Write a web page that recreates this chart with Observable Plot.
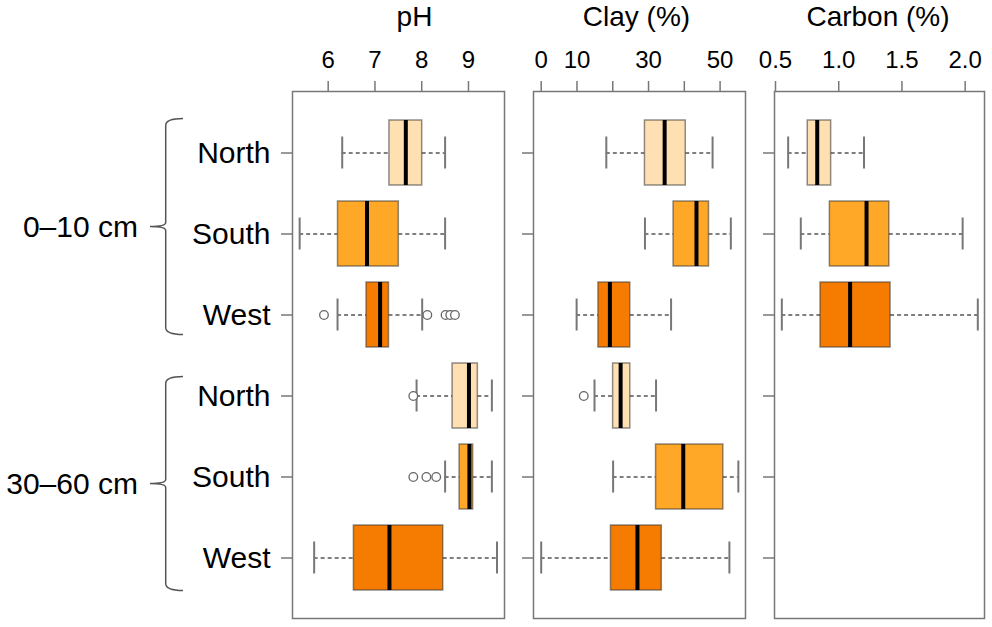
<!DOCTYPE html>
<html>
<head>
<meta charset="utf-8">
<script src="https://cdn.jsdelivr.net/npm/d3@7"></script>
<script src="https://cdn.jsdelivr.net/npm/@observablehq/plot@0.6"></script>
<style>
  body { margin: 0; background: #fff; }
  #chart { position: relative; width: 992px; height: 627px; overflow: hidden; background: #fff; }
  #chart svg { position: absolute; top: 0; }
</style>
</head>
<body>
<div id="chart"></div>
<script>
const FONT = '"Liberation Sans", Arial, Helvetica, sans-serif';

// ---- categories ----
const regions = ["North", "South", "West"];
const regionColors = ["#FFE0B2", "#FFA726", "#F57C00"];
const depths = ["0–10 cm", "30–60 cm"];
const rowRegion = ["North", "South", "West", "North", "South", "West"];
const rowDepth = ["0–10 cm", "0–10 cm", "0–10 cm", "30–60 cm", "30–60 cm", "30–60 cm"];

// ---- pH ----
const phLow  = [6.30, 5.39, 6.20, 7.89, 8.50, 5.70];
const phQ1   = [7.31, 6.21, 6.82, 8.66, 8.81, 6.55];
const phMed  = [7.66, 6.83, 7.11, 9.01, 9.02, 7.31];
const phQ3   = [8.01, 7.51, 7.30, 9.20, 9.10, 8.46];
const phHigh = [8.50, 8.50, 8.01, 9.50, 9.50, 9.61];
const phOutRow = [2, 2, 2, 2, 2, 3, 4, 4, 4];
const phOutVal = [5.91, 8.12, 8.51, 8.61, 8.71, 7.82, 7.82, 8.10, 8.31];
const phTicks = [6, 7, 8, 9];
const phTickLabels = ["6", "7", "8", "9"];

// ---- Clay (%) ----
const clayLow  = [18.2, 29.0, 9.9, 14.9, 20.1, 0.0];
const clayQ1   = [29.0, 37.0, 16.0, 20.1, 32.1, 19.5];
const clayMed  = [34.5, 43.4, 19.2, 22.2, 39.7, 26.9];
const clayQ3   = [40.4, 46.9, 24.9, 24.9, 50.9, 33.7];
const clayHigh = [47.9, 53.0, 36.3, 32.1, 55.1, 52.6];
const clayOutRow = [3];
const clayOutVal = [11.9];
const clayTicks = [0, 10, 20, 30, 40, 50];
const clayTickLabels = ["0", "10", "", "30", "", "50"];

// ---- Carbon (%) (0–10 cm only) ----
const carbLow  = [0.60, 0.70, 0.55];
const carbQ1   = [0.755, 0.93, 0.856];
const carbMed  = [0.83, 1.22, 1.09];
const carbQ3   = [0.94, 1.40, 1.41];
const carbHigh = [1.20, 1.98, 2.10];
const carbOutRow = [];
const carbOutVal = [];
const carbTicks = [0.5, 1.0, 1.5, 2.0];
const carbTickLabels = ["0.5", "1.0", "1.5", "2.0"];

const rowKeys = d3.range(rowRegion.length);

function panel({title, domain, ticks, tickLabels, low, q1, med, q3, high, outRow, outVal,
                left, width, marginLeft, marginRight, titleDx, showLabels}) {
  const rows = low.map((_, i) => ({key: i, region: rowRegion[i], depth: rowDepth[i],
    low: low[i], q1: q1[i], med: med[i], q3: q3[i], high: high[i]}));
  const outs = outRow.map((r, i) => ({row: r, value: outVal[i]}));
  const dash = {stroke: "#555", strokeWidth: 1.5, strokeDasharray: "4,3"};
  const cap = {stroke: "#777", strokeWidth: 2, insetTop: 16.5, insetBottom: 16.5};
  const svg = Plot.plot({
    width, height: 627,
    marginLeft, marginRight, marginTop: 91, marginBottom: 9,
    style: {fontFamily: FONT, fontSize: "24px", background: "transparent", overflow: "visible", color: "black"},
    x: {domain},
    y: {type: "band", domain: rowKeys, paddingInner: 0.2, paddingOuter: 0.325},
    color: {domain: regions, range: regionColors},
    marks: [
      Plot.axisX({anchor: "top", ticks, tickFormat: d => tickLabels[ticks.indexOf(d)],
        tickSize: 11, tickPadding: 13, stroke: "#777", strokeWidth: 1.5, fontSize: 24, label: null}),
      Plot.axisY({anchor: "left", tickSize: 11, tickPadding: 11, stroke: "#777", strokeWidth: 1.5,
        fontSize: 30, tickFormat: showLabels ? (k => rowRegion[k]) : (() => ""), label: null}),
      Plot.ruleY(rows, {y: "key", x1: "low", x2: "q1", ...dash}),
      Plot.ruleY(rows, {y: "key", x1: "q3", x2: "high", ...dash}),
      Plot.tickX(rows, {y: "key", x: "low", ...cap}),
      Plot.tickX(rows, {y: "key", x: "high", ...cap}),
      Plot.barX(rows, {y: "key", x1: "q1", x2: "q3", fill: "region", stroke: "#333", strokeOpacity: 0.55, strokeWidth: 1.5}),
      Plot.tickX(rows, {y: "key", x: "med", stroke: "black", strokeWidth: 4}),
      Plot.dot(outs, {y: "row", x: "value", r: 4.3, stroke: "#666", strokeWidth: 1.3, fill: "white"}),
      Plot.frame({stroke: "#777", strokeWidth: 1.5}),
      Plot.text([title], {frameAnchor: "top", lineAnchor: "middle", dy: -74, dx: titleDx,
        fontSize: 28, fill: "black", text: d => d})
    ]
  });
  svg.style.left = left + "px";
  document.getElementById("chart").appendChild(svg);
  return svg;
}

const p1 = panel({title: "pH", domain: [5.237, 9.770], ticks: phTicks, tickLabels: phTickLabels,
  low: phLow, q1: phQ1, med: phMed, q3: phQ3, high: phHigh, outRow: phOutRow, outVal: phOutVal,
  left: 0, width: 510, marginLeft: 292, marginRight: 6, titleDx: 16, showLabels: true});

panel({title: "Clay (%)", domain: [-2.15, 57.1], ticks: clayTicks, tickLabels: clayTickLabels,
  low: clayLow, q1: clayQ1, med: clayMed, q3: clayQ3, high: clayHigh, outRow: clayOutRow, outVal: clayOutVal,
  left: 510, width: 245, marginLeft: 23, marginRight: 10, titleDx: -3, showLabels: false});

panel({title: "Carbon (%)", domain: [0.492, 2.153], ticks: carbTicks, tickLabels: carbTickLabels,
  low: carbLow, q1: carbQ1, med: carbMed, q3: carbQ3, high: carbHigh, outRow: carbOutRow, outVal: carbOutVal,
  left: 755, width: 237, marginLeft: 19, marginRight: 8, titleDx: -1.5, showLabels: false});

// ---- depth brackets, placed with the y scale of the first panel ----
const ys = p1.scale("y");
const bw = ys.bandwidth;
const g = d3.select(p1).append("g");
const bracketPad = [[-1.5, -12.5], [13.5, 0.5]]; // [top offset, bottom offset] per group
depths.forEach((dep, gi) => {
  const keys = rowKeys.filter(k => rowDepth[k] === dep);
  const top = ys.apply(keys[0]) + bracketPad[gi][0];
  const bottom = ys.apply(keys[keys.length - 1]) + bw + bracketPad[gi][1];
  const mid = (top + bottom) / 2;
  const xl = 165.7, xr = 183, xp = 150, r = 7;
  const path = `M${xr},${top} Q${xl},${top} ${xl},${top + r} L${xl},${mid - 4}` +
               ` Q${xl},${mid} ${xp},${mid} Q${xl},${mid} ${xl},${mid + 4}` +
               ` L${xl},${bottom - r} Q${xl},${bottom} ${xr},${bottom}`;
  g.append("path").attr("d", path).attr("fill", "none").attr("stroke", "#555").attr("stroke-width", 1.5);
  g.append("text").attr("x", 138).attr("y", mid).attr("dy", "0.35em")
    .attr("text-anchor", "end").attr("font-size", 30).attr("font-family", FONT)
    .attr("fill", "black").text(dep);
});
</script>
</body>
</html>
